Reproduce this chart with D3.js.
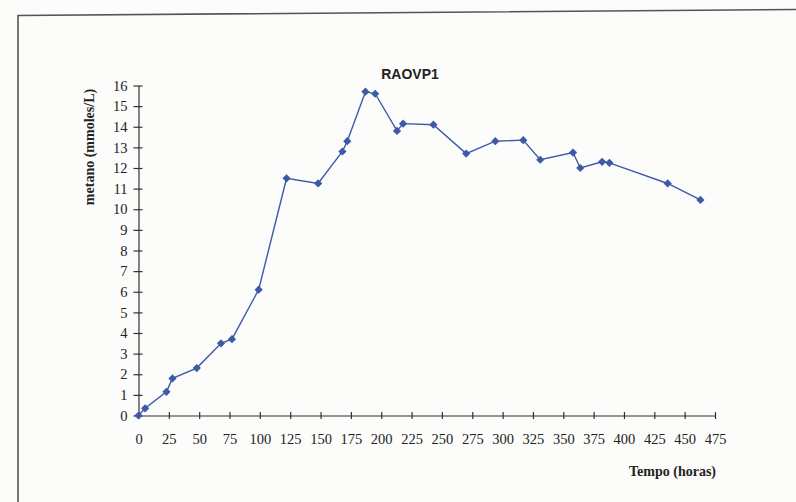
<!DOCTYPE html>
<html>
<head>
<meta charset="utf-8">
<script src="https://cdn.jsdelivr.net/npm/d3@7"></script>
<style>
  html, body { margin: 0; padding: 0; background: #fcfcfa; }
  svg { display: block; }
</style>
</head>
<body>
<svg id="chart" width="796" height="502"></svg>
<script>
// Methane production over time, reactor RAOVP1
const tempoHoras = [0, 5.5, 23, 28, 48, 68, 77, 99, 122, 148, 168, 172, 187, 195, 213, 218, 243, 270, 294, 317, 331, 358, 364, 382, 388, 436, 463];
const metano     = [0, 0.35, 1.15, 1.8, 2.3, 3.5, 3.7, 6.1, 11.5, 11.25, 12.8, 13.3, 15.7, 15.6, 13.8, 14.15, 14.1, 12.7, 13.3, 13.35, 12.4, 12.75, 12.0, 12.3, 12.25, 11.25, 10.45];
const xTicks = d3.range(0, 476, 25);
const yTicks = d3.range(0, 17, 1);

const title = "RAOVP1";
const xTitle = "Tempo (horas)";
const yTitle = "metano (mmoles/L)";

const svg = d3.select("#chart");
const plot = { left: 138.5, right: 715, top: 85.5, bottom: 415.5 };

const x = d3.scaleLinear().domain([0, 475]).range([plot.left, plot.right]);
const y = d3.scaleLinear().domain([0, 16]).range([plot.bottom, plot.top]);

// page frame
svg.append("path")
  .attr("d", "M18,502 L18,15.5 L796,9.5")
  .attr("fill", "none")
  .attr("stroke", "#555")
  .attr("stroke-width", 1.6);

const serif = "'Liberation Serif', 'DejaVu Serif', serif";
const axisColor = "#333";

// x axis
const xAxis = svg.append("g")
  .attr("transform", `translate(0,${plot.bottom})`)
  .call(d3.axisBottom(x).tickValues(xTicks).tickSize(0).tickPadding(18));
xAxis.select(".domain").attr("stroke", axisColor).attr("stroke-width", 1.2);
xAxis.selectAll(".tick text").attr("font-family", serif).attr("font-size", 14.5).attr("fill", "#222");
xAxis.selectAll(".tick").append("line")
  .attr("y1", -3.5).attr("y2", 3.5).attr("stroke", axisColor).attr("stroke-width", 1.2);

// y axis
const yAxis = svg.append("g")
  .attr("transform", `translate(${plot.left},0)`)
  .call(d3.axisLeft(y).tickValues(yTicks).tickSize(0).tickPadding(11));
yAxis.select(".domain").attr("stroke", axisColor).attr("stroke-width", 1.2);
yAxis.selectAll(".tick text").attr("font-family", serif).attr("font-size", 14.5).attr("fill", "#222");
yAxis.selectAll(".tick").append("line")
  .attr("x1", -5).attr("x2", 4).attr("stroke", axisColor).attr("stroke-width", 1.2);

// series
const pts = tempoHoras.map((t, i) => [t, metano[i]]);
const blue = "#3c5aa6";

svg.append("path")
  .datum(pts)
  .attr("fill", "none")
  .attr("stroke", blue)
  .attr("stroke-width", 1.4)
  .attr("d", d3.line().x(d => x(d[0])).y(d => y(d[1])));

// diamond markers: squares turned 45 degrees
svg.append("g").selectAll("path")
  .data(pts)
  .join("path")
  .attr("transform", d => `translate(${x(d[0])},${y(d[1])}) rotate(45)`)
  .attr("d", d3.symbol(d3.symbolSquare, 34))
  .attr("fill", blue);

// titles
svg.append("text")
  .attr("x", 410).attr("y", 79)
  .attr("text-anchor", "middle")
  .attr("font-family", "'Liberation Sans', Arial, sans-serif")
  .attr("font-weight", "bold")
  .attr("font-size", 14)
  .attr("fill", "#222")
  .text(title);

svg.append("text")
  .attr("x", 716).attr("y", 476)
  .attr("text-anchor", "end")
  .attr("font-family", serif)
  .attr("font-weight", "bold")
  .attr("font-size", 14)
  .attr("fill", "#222")
  .text(xTitle);

svg.append("text")
  .attr("transform", "translate(94,147) rotate(-90)")
  .attr("text-anchor", "middle")
  .attr("font-family", serif)
  .attr("font-weight", "bold")
  .attr("font-size", 14)
  .attr("fill", "#222")
  .text(yTitle);
</script>
</body>
</html>
